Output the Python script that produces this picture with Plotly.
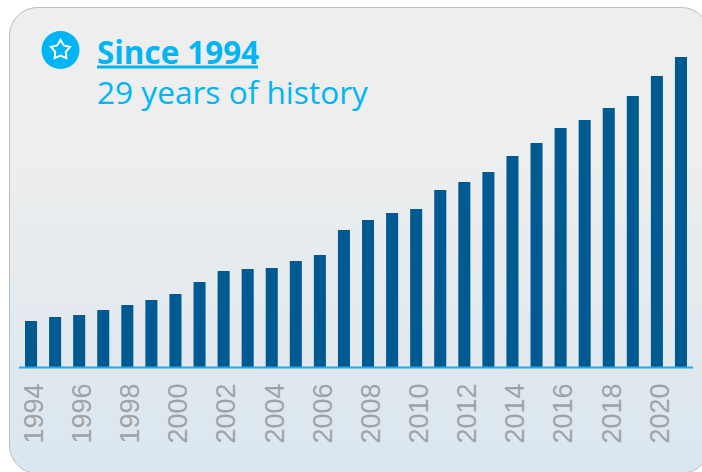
import base64, math
import plotly.graph_objects as go

years = list(range(1994, 2022))
values = [46, 50, 52, 57, 62, 67, 73, 85, 96, 98, 99, 106, 112, 137, 147, 154, 158, 177,
          185, 195, 211, 224, 239, 247, 259, 271, 291, 310]
title_text = "Since 1994"
subtitle_text = "29 years of history"

W, H = 702, 472
BASE = 367
BAR = "#005a92"
CYAN = "#00b5f5"

def px(x): return x / W
def py(y): return 1 - y / H

svg = f'''<svg xmlns="http://www.w3.org/2000/svg" width="{W}" height="{H}" viewBox="0 0 {W} {H}">
<defs><linearGradient id="g" x1="0" y1="0" x2="0" y2="1">
<stop offset="0" stop-color="#eeeeee"/><stop offset="0.3" stop-color="#eeeeee"/>
<stop offset="1" stop-color="#dae6ef"/></linearGradient></defs>
<rect x="9.5" y="7.5" width="700" height="466" rx="28" ry="28" fill="url(#g)" stroke="#bdbdbd" stroke-width="1"/>
</svg>'''
bg = "data:image/svg+xml;base64," + base64.b64encode(svg.encode()).decode()

cx, cy = 60.5, 50
pts = []
for i in range(10):
    r = 10 if i % 2 == 0 else 5.6
    a = -math.pi / 2 + i * math.pi / 5
    pts.append((cx + r * math.cos(a), cy + r * math.sin(a)))
star = "M" + " L".join(f"{px(x):.5f},{py(y):.5f}" for x, y in pts) + " Z"

fig = go.Figure(go.Bar(x=years, y=values, width=0.5,
                       marker=dict(color=BAR, line=dict(width=0)), hoverinfo="skip"))

fig.update_layout(
    width=W, height=H, margin=dict(l=0, r=0, t=0, b=0, autoexpand=False),
    paper_bgcolor="white", plot_bgcolor="rgba(0,0,0,0)", showlegend=False,
    xaxis=dict(domain=[px(19), px(693)], range=[1993.5, 2021.5], tick0=1994, dtick=2,
               tickangle=-90, showgrid=False, zeroline=False, showline=False,
               ticks="", ticklabelstandoff=10, ticklabelshift=3,
               tickfont=dict(family="Liberation Sans", size=27, color="#a0a3a6")),
    yaxis=dict(domain=[(H - BASE) / H, 1], range=[0, BASE], visible=False),
    images=[dict(source=bg, xref="paper", yref="paper", x=0, y=1, sizex=1, sizey=1,
                 sizing="stretch", xanchor="left", yanchor="top", layer="below")],
    shapes=[
        dict(type="line", xref="paper", yref="paper", x0=px(19), x1=px(693), y0=py(367.5), y1=py(367.5),
             line=dict(color="#1fa9ee", width=2)),
        dict(type="circle", xref="paper", yref="paper", x0=px(41.5), x1=px(79.5), y0=py(69), y1=py(31),
             fillcolor=CYAN, line=dict(width=0)),
        dict(type="path", xref="paper", yref="paper", path=star, fillcolor="rgba(0,0,0,0)",
             line=dict(color="white", width=2)),
        dict(type="line", xref="paper", yref="paper", x0=px(97), x1=px(258), y0=py(67), y1=py(67),
             line=dict(color=CYAN, width=3)),
    ],
    annotations=[
        dict(text=f"<b>{title_text}</b>", xref="paper", yref="paper", x=px(95), y=py(51),
             xanchor="left", yanchor="middle", showarrow=False,
             font=dict(family="Open Sans", size=31.4, color=CYAN)),
        dict(text=subtitle_text, xref="paper", yref="paper", x=px(95), y=py(91),
             xanchor="left", yanchor="middle", showarrow=False,
             font=dict(family="Open Sans", size=31.6, color=CYAN)),
    ],
)
fig.write_html("out.html", config=dict(displayModeBar=False),
               post_script="document.body.style.margin='0';document.documentElement.style.overflow='hidden';")
